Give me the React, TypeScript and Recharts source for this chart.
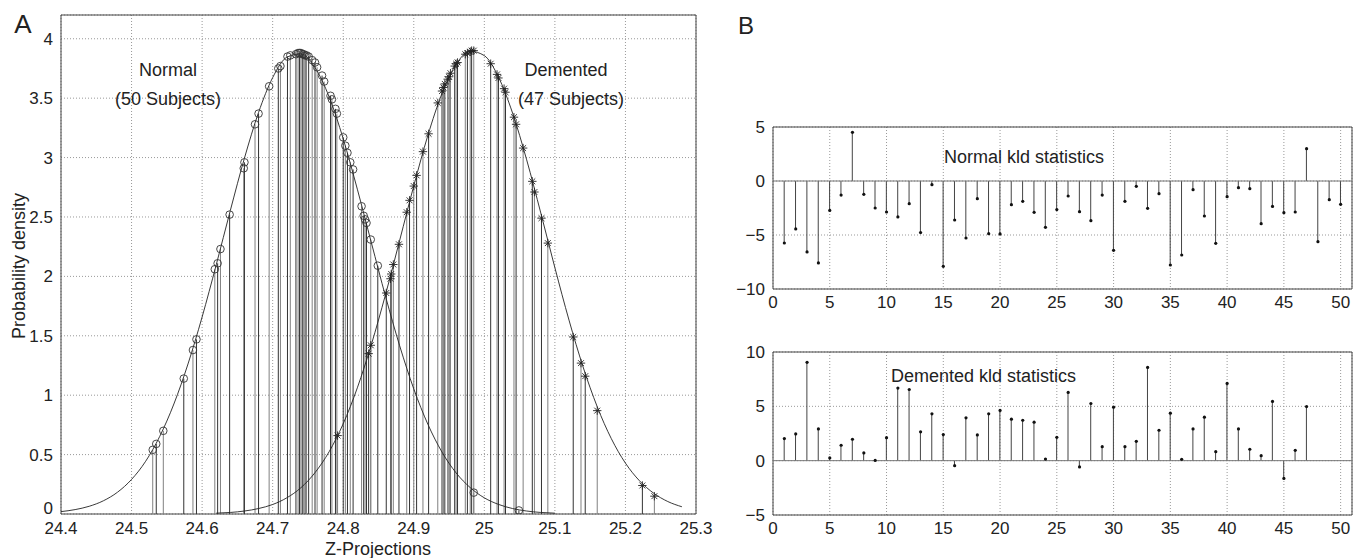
import { ComposedChart, Line, Scatter, Bar, XAxis, YAxis, CartesianGrid, ReferenceLine, ReferenceArea } from 'recharts';

const FONT = '"Liberation Sans", Arial, Helvetica, sans-serif';
const INK = '#222';

// ---- panel A: projections and fitted densities ----
const zTicks = [24.4, 24.5, 24.6, 24.7, 24.8, 24.9, 25, 25.1, 25.2, 25.3];
const densityTicks = [0, 0.5, 1, 1.5, 2, 2.5, 3, 3.5, 4];

const normalCurve: [number, number][] = [
  [24.40, 0.020], [24.42, 0.037], [24.44, 0.065], [24.46, 0.111], [24.48, 0.183],
  [24.50, 0.291], [24.52, 0.444], [24.54, 0.654], [24.56, 0.926], [24.58, 1.263],
  [24.60, 1.658], [24.62, 2.097], [24.64, 2.555], [24.66, 2.995], [24.68, 3.380],
  [24.70, 3.673], [24.72, 3.844], [24.74, 3.873], [24.76, 3.758], [24.78, 3.511],
  [24.80, 3.158], [24.82, 2.734], [24.84, 2.281], [24.86, 1.831], [24.88, 1.416],
  [24.90, 1.053], [24.92, 0.755], [24.94, 0.521], [24.96, 0.346], [24.98, 0.222],
  [25.00, 0.136], [25.02, 0.081], [25.04, 0.046], [25.06, 0.025], [25.08, 0.013],
  [25.10, 0.007],
];

const dementedCurve: [number, number][] = [
  [24.62, 0.007], [24.64, 0.013], [24.66, 0.025], [24.68, 0.046], [24.70, 0.080],
  [24.72, 0.136], [24.74, 0.221], [24.76, 0.348], [24.78, 0.524], [24.80, 0.760],
  [24.82, 1.062], [24.84, 1.429], [24.86, 1.848], [24.88, 2.303], [24.90, 2.762],
  [24.92, 3.187], [24.94, 3.540], [24.96, 3.785], [24.98, 3.895], [25.00, 3.858],
  [25.02, 3.678], [25.04, 3.375], [25.06, 2.981], [25.08, 2.534], [25.10, 2.073],
  [25.12, 1.632], [25.14, 1.237], [25.16, 0.903], [25.18, 0.634], [25.20, 0.428],
  [25.22, 0.279], [25.24, 0.175], [25.26, 0.105], [25.28, 0.061],
];

// 50 normal subjects (o)
const normalSubjects: [number, number][] = [
  [24.530, 0.54], [24.535, 0.59], [24.545, 0.70], [24.574, 1.14], [24.587, 1.38],
  [24.592, 1.47], [24.618, 2.06], [24.622, 2.11], [24.626, 2.23], [24.639, 2.52],
  [24.659, 2.91], [24.660, 2.96], [24.675, 3.28], [24.680, 3.37], [24.695, 3.60],
  [24.708, 3.75], [24.711, 3.77], [24.721, 3.85], [24.725, 3.86], [24.733, 3.87],
  [24.736, 3.88], [24.738, 3.88], [24.740, 3.88], [24.742, 3.87], [24.744, 3.87],
  [24.746, 3.86], [24.748, 3.86], [24.751, 3.85], [24.756, 3.82], [24.760, 3.80],
  [24.763, 3.76], [24.770, 3.69], [24.773, 3.64], [24.782, 3.52], [24.784, 3.49],
  [24.789, 3.41], [24.791, 3.37], [24.800, 3.17], [24.803, 3.10], [24.806, 3.04],
  [24.810, 2.96], [24.814, 2.90], [24.826, 2.59], [24.829, 2.51], [24.831, 2.48],
  [24.833, 2.45], [24.839, 2.31], [24.849, 2.09], [24.985, 0.18], [25.049, 0.03],
];

// 47 demented subjects (*)
const dementedSubjects: [number, number][] = [
  [24.792, 0.66], [24.836, 1.35], [24.839, 1.42], [24.861, 1.86], [24.867, 1.98],
  [24.868, 2.02], [24.871, 2.10], [24.879, 2.27], [24.890, 2.54], [24.894, 2.64],
  [24.900, 2.76], [24.904, 2.85], [24.913, 3.05], [24.921, 3.20], [24.934, 3.46],
  [24.940, 3.56], [24.942, 3.59], [24.944, 3.62], [24.948, 3.66], [24.950, 3.68],
  [24.952, 3.71], [24.958, 3.77], [24.960, 3.79], [24.962, 3.80], [24.973, 3.87],
  [24.976, 3.88], [24.980, 3.89], [24.982, 3.90], [24.985, 3.90], [25.009, 3.79],
  [25.018, 3.70], [25.020, 3.67], [25.028, 3.58], [25.030, 3.55], [25.042, 3.34],
  [25.045, 3.28], [25.055, 3.08], [25.068, 2.80], [25.071, 2.71], [25.081, 2.49],
  [25.090, 2.28], [25.126, 1.49], [25.137, 1.27], [25.143, 1.16], [25.160, 0.87],
  [25.224, 0.24], [25.241, 0.15],
];

// ---- panel B: kld statistics per subject ----
const normalKld = [
  -5.74, -4.44, -6.57, -7.59, -2.72, -1.30, 4.51, -1.23, -2.50, -2.87,
  -3.33, -2.10, -4.78, -0.34, -7.90, -3.61, -5.28, -1.64, -4.88, -4.90,
  -2.19, -1.88, -2.90, -4.29, -2.65, -1.39, -2.84, -3.67, -1.30, -6.42,
  -1.88, -0.49, -2.53, -1.17, -7.78, -6.85, -0.80, -3.24, -5.77, -1.45,
  -0.62, -0.71, -3.95, -2.35, -2.93, -2.87, 2.99, -5.62, -1.73, -2.16,
];
const dementedKld = [
  2.03, 2.46, 9.05, 2.92, 0.25, 1.42, 1.97, 0.71, 0.02, 2.12,
  6.68, 6.55, 2.65, 4.31, 2.40, -0.46, 3.94, 2.37, 4.31, 4.62,
  3.82, 3.72, 3.54, 0.15, 2.15, 6.28, -0.58, 5.26, 1.29, 4.92,
  1.29, 1.78, 8.58, 2.80, 4.37, 0.12, 2.92, 4.00, 0.83, 7.11,
  2.92, 1.05, 0.46, 5.45, -1.63, 0.95, 4.98,
];
const subjectTicks = [0, 5, 10, 15, 20, 25, 30, 35, 40, 45, 50];
const normalKldTicks = [-10, -5, 0, 5];
const dementedKldTicks = [-5, 0, 5, 10];

const toXY = (rows: [number, number][]) => rows.map(([x, y]) => ({ x, y }));
const toStems = (vals: number[]) => vals.map((v, i) => ({ i: i + 1, v }));
const minus = (v: number) => (v < 0 ? '\u2212' + Math.abs(v) : String(v));

const tickStyle = { fontSize: 17, fill: INK, fontFamily: FONT };

// y tick for panel A: the bottom "0" sits a touch higher so it clears "24.4"
const DensityTick = (p: any) => {
  const v = p.payload.value;
  return (
    <text x={p.x} y={p.y} dy={v === 0 ? '0.02em' : '0.355em'} textAnchor="end"
      fontSize={17} fill={INK} fontFamily={FONT}>{String(v)}</text>
  );
};

const Ring = (p: any) => (
  <circle cx={p.cx} cy={p.cy} r={3.8} fill="none" stroke="#333" strokeWidth={0.9} />
);
const Star = (p: any) => {
  const r = 4.2;
  const d = r * 0.7;
  return (
    <g stroke="#222" strokeWidth={0.9}>
      <line x1={p.cx - r} y1={p.cy} x2={p.cx + r} y2={p.cy} />
      <line x1={p.cx} y1={p.cy - r} x2={p.cx} y2={p.cy + r} />
      <line x1={p.cx - d} y1={p.cy - d} x2={p.cx + d} y2={p.cy + d} />
      <line x1={p.cx - d} y1={p.cy + d} x2={p.cx + d} y2={p.cy - d} />
    </g>
  );
};
const Tip = (p: any) => <circle cx={p.cx} cy={p.cy} r={1.6} fill="#111" />;

function Note({ x, y, children, size = 18, center = true }: any) {
  return (
    <div style={{
      position: 'absolute', left: x, top: y, fontSize: size, fontFamily: FONT, color: INK,
      whiteSpace: 'nowrap', lineHeight: 1, transform: center ? 'translate(-50%, -50%)' : 'translate(0, -50%)',
    }}>{children}</div>
  );
}

function KldPanel({ values, ticks, domain, top, height, marginTop }: any) {
  return (
    <div style={{ position: 'absolute', left: 720, top }}>
      <ComposedChart width={637} height={height} data={toStems(values)}
        margin={{ top: marginTop, right: 5, bottom: 0, left: 0 }}>
        <CartesianGrid stroke="#999" strokeDasharray="1 2" />
        <XAxis dataKey="i" type="number" domain={[0, 51]} ticks={subjectTicks} interval={0}
          tick={tickStyle} tickLine={false} axisLine={false} height={26} tickMargin={1} />
        <YAxis type="number" domain={domain} ticks={ticks} interval={0} tickFormatter={minus}
          tick={tickStyle} tickLine={false} axisLine={false} width={53} allowDataOverflow />
        <ReferenceLine y={0} stroke="#777" strokeWidth={1} />
        <Bar dataKey="v" barSize={1} fill="#444" isAnimationActive={false} />
        <Scatter dataKey="v" shape={Tip} isAnimationActive={false} />
        <ReferenceArea x1={0} x2={51} y1={domain[0]} y2={domain[1]} fill="none" fillOpacity={0}
          stroke="#444" strokeWidth={1} ifOverflow="visible" />
      </ComposedChart>
    </div>
  );
}

export default function App() {
  const nPts = toXY(normalSubjects);
  const dPts = toXY(dementedSubjects);
  return (
    <div style={{ position: 'absolute', left: 0, top: 0, width: 1357, height: 558, background: '#fff', fontFamily: FONT }}>
      <div style={{ position: 'absolute', left: 0, top: 0 }}>
        <ComposedChart width={720} height={558} margin={{ top: 15, right: 24, bottom: 14, left: 0 }}>
          <CartesianGrid stroke="#999" strokeDasharray="1 2" />
          <XAxis dataKey="x" type="number" domain={[24.4, 25.3]} ticks={zTicks} interval={0}
            tick={tickStyle} tickLine={false} axisLine={false} height={30} tickMargin={2} allowDataOverflow />
          <YAxis dataKey="y" type="number" domain={[0, 4.2]} ticks={densityTicks} interval={0}
            tick={<DensityTick />} tickLine={false} axisLine={false} width={61} allowDataOverflow />
          {nPts.map((p, k) => (
            <ReferenceLine key={'n' + k} segment={[{ x: p.x, y: 0 }, { x: p.x, y: p.y }]}
              stroke={k % 2 ? '#333' : '#808080'} strokeWidth={1} />
          ))}
          {dPts.map((p, k) => (
            <ReferenceLine key={'d' + k} segment={[{ x: p.x, y: 0 }, { x: p.x, y: p.y }]}
              stroke={k % 2 ? '#333' : '#808080'} strokeWidth={1} />
          ))}
          <Line data={toXY(normalCurve)} dataKey="y" type="monotone" stroke="#222" strokeWidth={0.9}
            dot={false} activeDot={false} isAnimationActive={false} />
          <Line data={toXY(dementedCurve)} dataKey="y" type="monotone" stroke="#222" strokeWidth={0.9}
            dot={false} activeDot={false} isAnimationActive={false} />
          <Scatter data={nPts} dataKey="y" shape={Ring} isAnimationActive={false} />
          <Scatter data={dPts} dataKey="y" shape={Star} isAnimationActive={false} />
          <ReferenceArea x1={24.4} x2={25.3} y1={0} y2={4.2} fill="none" fillOpacity={0}
            stroke="#444" strokeWidth={1} ifOverflow="visible" />
        </ComposedChart>
      </div>

      <KldPanel values={normalKld} ticks={normalKldTicks} domain={[-10, 5]} top={100} height={215} marginTop={27} />
      <KldPanel values={dementedKld} ticks={dementedKldTicks} domain={[-5, 10]} top={330} height={211} marginTop={22} />

      <Note x={23} y={24} size={26}>A</Note>
      <Note x={746} y={26} size={24}>B</Note>
      <Note x={168} y={70}>Normal</Note>
      <Note x={168} y={99}>(50 Subjects)</Note>
      <Note x={566} y={70}>Demented</Note>
      <Note x={571} y={99}>(47 Subjects)</Note>
      <Note x={378} y={549}>Z-Projections</Note>
      <div style={{
        position: 'absolute', left: 19, top: 266, fontSize: 18, fontFamily: FONT, color: INK,
        whiteSpace: 'nowrap', lineHeight: 1, transform: 'translate(-50%, -50%) rotate(-90deg)',
      }}>Probability density</div>
      <Note x={944} y={157} center={false}>Normal kld statistics</Note>
      <Note x={891} y={376} center={false}>Demented kld statistics</Note>
    </div>
  );
}
